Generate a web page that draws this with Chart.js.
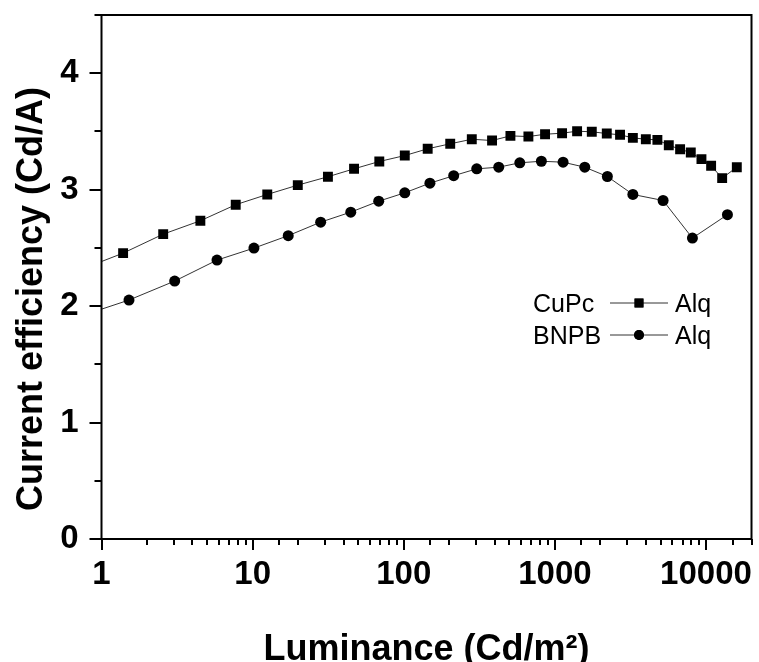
<!DOCTYPE html>
<html>
<head>
<meta charset="utf-8">
<script src="https://cdn.jsdelivr.net/npm/chart.js@4/dist/chart.umd.min.js"></script>
<style>
  html, body { margin: 0; padding: 0; background: #fff; }
  canvas { display: block; }
</style>
</head>
<body>
<canvas id="eff-chart" width="759" height="662"></canvas>
<script>
// luminance (Cd/m2) and current efficiency (Cd/A)
const cupcLum = [0.75, 1.39, 2.56, 4.51, 7.73, 12.5, 19.9, 31.5, 46.9, 68.9, 101.6, 144, 203, 282, 384, 508, 668, 861, 1116, 1403, 1755, 2205, 2699, 3281, 3998, 4768, 5672, 6739, 7930, 9330, 10810, 12790, 15990];
const cupcEff = [2.32, 2.455, 2.618, 2.733, 2.871, 2.959, 3.039, 3.111, 3.179, 3.242, 3.293, 3.351, 3.394, 3.433, 3.422, 3.462, 3.456, 3.476, 3.485, 3.502, 3.497, 3.482, 3.471, 3.445, 3.433, 3.428, 3.382, 3.347, 3.319, 3.262, 3.205, 3.099, 3.193];

const bnpbLum = [0.75, 1.52, 3.05, 5.81, 10.2, 17.2, 28.2, 44.6, 68.3, 101.6, 149, 214, 304, 425, 586, 814, 1133, 1577, 2225, 3281, 5200, 8130, 13860];
const bnpbEff = [1.92, 2.052, 2.215, 2.395, 2.498, 2.605, 2.721, 2.807, 2.901, 2.973, 3.056, 3.12, 3.179, 3.193, 3.231, 3.244, 3.236, 3.193, 3.113, 2.959, 2.907, 2.584, 2.785];

const seriesNames = ['CuPc', 'BNPB'];
const seriesSuffix = 'Alq';
const xTitle = 'Luminance (Cd/m\u00B2)';
const yTitle = 'Current efficiency (Cd/A)';

const FONT = "'Liberation Sans', Arial, sans-serif";

const isDecade = v => {
  const e = Math.round(Math.log10(v));
  return Math.abs(v - Math.pow(10, e)) < 1e-6;
};

const toPoints = (xs, ys) => xs.map((x, i) => ({ x: x, y: ys[i] }));

// frame, tick marks, axis titles and the little legend
const decorations = {
  id: 'decorations',
  afterDraw(chart) {
    const ctx = chart.ctx;
    const area = chart.chartArea;
    const xs = chart.scales.x;
    const ys = chart.scales.y;
    ctx.save();
    ctx.strokeStyle = '#000';
    ctx.lineWidth = 2;
    ctx.strokeRect(area.left, area.top, area.right - area.left, area.bottom - area.top);

    ctx.beginPath();
    xs.ticks.forEach(t => {
      const px = Math.round(xs.getPixelForValue(t.value));
      const len = isDecade(t.value) ? 11 : 6;
      ctx.moveTo(px, area.bottom);
      ctx.lineTo(px, area.bottom + len);
    });
    ys.ticks.forEach(t => {
      const py = Math.round(ys.getPixelForValue(t.value));
      const len = Number.isInteger(t.value) ? 12 : 7;
      ctx.moveTo(area.left, py);
      ctx.lineTo(area.left - len, py);
    });
    ctx.stroke();

    ctx.fillStyle = '#000';
    ctx.font = 'bold 36px ' + FONT;
    ctx.textAlign = 'center';
    ctx.textBaseline = 'alphabetic';
    ctx.fillText(xTitle, (area.left + area.right) / 2, 660);

    ctx.translate(42, 299);
    ctx.rotate(-Math.PI / 2);
    ctx.fillText(yTitle, 0, 0);
    ctx.restore();

    // legend
    ctx.save();
    ctx.font = '25px ' + FONT;
    ctx.fillStyle = '#000';
    ctx.textBaseline = 'alphabetic';
    chart.data.datasets.forEach((ds, i) => {
      const base = 312 + i * 32;
      const mid = base - 9;
      ctx.textAlign = 'left';
      ctx.fillText(seriesNames[i], 533, base);
      ctx.fillText(seriesSuffix, 675, base);
      ctx.strokeStyle = ds.borderColor;
      ctx.lineWidth = 1;
      ctx.beginPath();
      ctx.moveTo(610, mid);
      ctx.lineTo(668, mid);
      ctx.stroke();
      Chart.helpers.drawPoint(ctx, {
        pointStyle: ds.pointStyle,
        radius: ds.pointRadius * 0.9,
        borderWidth: 0,
        rotation: 0
      }, 639, mid);
      ctx.fillStyle = '#000';
      ctx.fill();
    });
    ctx.restore();
  }
};

const ctx = document.getElementById('eff-chart').getContext('2d');
new Chart(ctx, {
  type: 'line',
  data: {
    datasets: [{
      label: seriesNames[0] + ' - ' + seriesSuffix,
      data: toPoints(cupcLum, cupcEff),
      borderColor: '#333',
      borderWidth: 1,
      pointStyle: 'rect',
      pointRadius: 7,
      pointBorderWidth: 0,
      pointBackgroundColor: '#000',
      tension: 0
    }, {
      label: seriesNames[1] + ' - ' + seriesSuffix,
      data: toPoints(bnpbLum, bnpbEff),
      borderColor: '#333',
      borderWidth: 1,
      pointStyle: 'circle',
      pointRadius: 5.5,
      pointBorderWidth: 0,
      pointBackgroundColor: '#000',
      tension: 0
    }]
  },
  options: {
    responsive: false,
    devicePixelRatio: 1,
    animation: false,
    layout: { padding: { left: 0, right: 7.5, top: 15, bottom: 0 } },
    plugins: {
      legend: { display: false },
      tooltip: { enabled: false }
    },
    scales: {
      x: {
        type: 'logarithmic',
        min: 1,
        max: 20000,
        grid: { display: false },
        border: { display: false },
        ticks: {
          autoSkip: false,
          maxRotation: 0,
          padding: 8,
          color: '#000',
          font: { family: FONT, size: 33, weight: 'bold' },
          callback: v => (isDecade(v) ? String(Math.round(v)) : '')
        },
        afterFit: scale => {
          scale.height = 123;
          scale.paddingLeft = 0;
          scale.paddingRight = 0;
        }
      },
      y: {
        min: 0,
        max: 4.5,
        grid: { display: false },
        border: { display: false },
        ticks: {
          stepSize: 0.5,
          padding: 15,
          color: '#000',
          font: { family: FONT, size: 33, weight: 'bold' },
          callback: v => (Number.isInteger(v) ? String(v) : '')
        },
        afterFit: scale => {
          scale.width = 101.5;
          scale.paddingTop = 0;
          scale.paddingBottom = 0;
        }
      }
    }
  },
  plugins: [decorations]
});
</script>
</body>
</html>
